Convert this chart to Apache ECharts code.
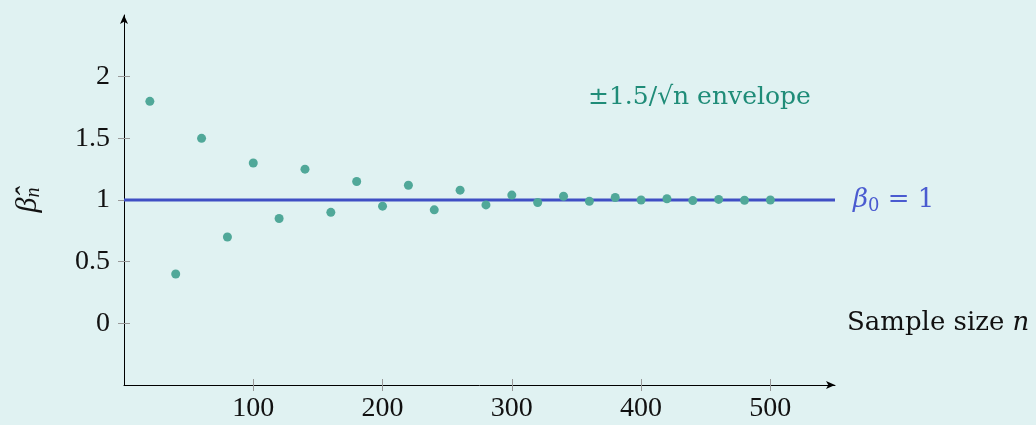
<!DOCTYPE html>
<html>
<head>
<meta charset="utf-8">
<script src="https://cdn.jsdelivr.net/npm/echarts@6/dist/echarts.min.js"></script>
<style>
  html, body { margin: 0; padding: 0; background: #e0f2f2; }
  #main { width: 1036px; height: 425px; }
</style>
</head>
<body>
<div id="main"></div>
<script>
// sample sizes and estimates
var sampleSizes = [20, 40, 60, 80, 100, 120, 140, 160, 180, 200, 220, 240, 260,
  280, 300, 320, 340, 360, 380, 400, 420, 440, 460, 480, 500];
var betaHat = [1.8, 0.4, 1.5, 0.7, 1.3, 0.85, 1.25, 0.9, 1.15, 0.95, 1.12, 0.92, 1.08,
  0.96, 1.04, 0.98, 1.03, 0.99, 1.02, 1.0, 1.01, 0.995, 1.005, 0.998, 1.0];
var trueBeta = 1;
var xTicks = [100, 200, 300, 400, 500];
var yTicks = [0, 0.5, 1, 1.5, 2];

var font = "'Liberation Serif', 'DejaVu Serif', serif";
var wideFont = "'DejaVu Serif', serif";

var points = [];
for (var i = 0; i < sampleSizes.length; i++) {
  points.push([sampleSizes[i], betaHat[i]]);
}

var chart = echarts.init(document.getElementById('main'));

var option = {
  backgroundColor: '#e0f2f2',
  animation: false,
  grid: { left: 124, right: 201, top: 15, bottom: 40 },
  xAxis: [
    {
      type: 'value',
      min: 0,
      max: 550,
      splitLine: { show: false },
      axisLine: {
        onZero: false,
        symbol: ['none', 'arrow'],
        symbolSize: [6, 9],
        lineStyle: { color: '#000', width: 1 }
      },
      axisTick: {
        customValues: xTicks,
        length: 6,
        lineStyle: { color: '#999' }
      },
      axisLabel: {
        customValues: xTicks,
        fontFamily: font,
        fontSize: 28,
        color: '#111',
        margin: 10
      },
      name: '{t|Sample size }{i|n}',
      nameLocation: 'end',
      nameGap: 12,
      nameTextStyle: {
        padding: [0, 0, 124, 0],
        rich: {
          t: { fontFamily: wideFont, fontSize: 26, color: '#111' },
          i: { fontFamily: wideFont, fontStyle: 'italic', fontSize: 26, color: '#111' }
        }
      }
    },
    {
      // inner half of the crossing ticks
      type: 'value',
      min: 0,
      max: 550,
      position: 'bottom',
      splitLine: { show: false },
      axisLine: { show: false, onZero: false },
      axisTick: {
        customValues: xTicks,
        inside: true,
        length: 6,
        lineStyle: { color: '#999' }
      },
      axisLabel: { show: false }
    }
  ],
  yAxis: [
    {
      type: 'value',
      min: -0.5,
      max: 2.5,
      splitLine: { show: false },
      axisLine: {
        onZero: false,
        symbol: ['none', 'arrow'],
        symbolSize: [6, 9],
        lineStyle: { color: '#000', width: 1 }
      },
      axisTick: {
        customValues: yTicks,
        length: 6,
        lineStyle: { color: '#999' }
      },
      axisLabel: {
        customValues: yTicks,
        fontFamily: font,
        fontSize: 28,
        color: '#111',
        margin: 14
      },
      name: '{b|β\u0302}{s|n}',
      nameLocation: 'middle',
      nameRotate: 90,
      nameGap: 80,
      nameTextStyle: {
        rich: {
          b: { fontFamily: font, fontStyle: 'italic', fontSize: 30, color: '#111' },
          s: { fontFamily: font, fontStyle: 'italic', fontSize: 20, color: '#111', padding: [12, 0, 0, 0] }
        }
      }
    },
    {
      type: 'value',
      min: -0.5,
      max: 2.5,
      position: 'left',
      splitLine: { show: false },
      axisLine: { show: false, onZero: false },
      axisTick: {
        customValues: yTicks,
        inside: true,
        length: 6,
        lineStyle: { color: '#999' }
      },
      axisLabel: { show: false }
    }
  ],
  graphic: [
    {
      type: 'text',
      left: 588,
      top: 85,
      style: {
        text: '±1.5/√n envelope',
        fontFamily: wideFont,
        fontSize: 25,
        fill: '#1f8c78'
      }
    }
  ],
  series: [
    {
      type: 'line',
      data: [[0, trueBeta], [550, trueBeta]],
      showSymbol: false,
      lineStyle: { color: '#3f4fc4', width: 3 },
      z: 2,
      endLabel: {
        show: true,
        formatter: '{b|β}{s|0}{e| = 1}',
        distance: 18,
        rich: {
          b: { fontFamily: wideFont, fontStyle: 'italic', fontSize: 26, color: '#4a5bd0' },
          s: { fontFamily: wideFont, fontSize: 18, color: '#4a5bd0', padding: [12, 0, 0, 0] },
          e: { fontFamily: wideFont, fontSize: 26, color: '#4a5bd0' }
        }
      }
    },
    {
      type: 'scatter',
      data: points,
      symbolSize: 9,
      itemStyle: { color: '#50a899', opacity: 1 },
      z: 3
    }
  ]
};

chart.setOption(option);
</script>
</body>
</html>
